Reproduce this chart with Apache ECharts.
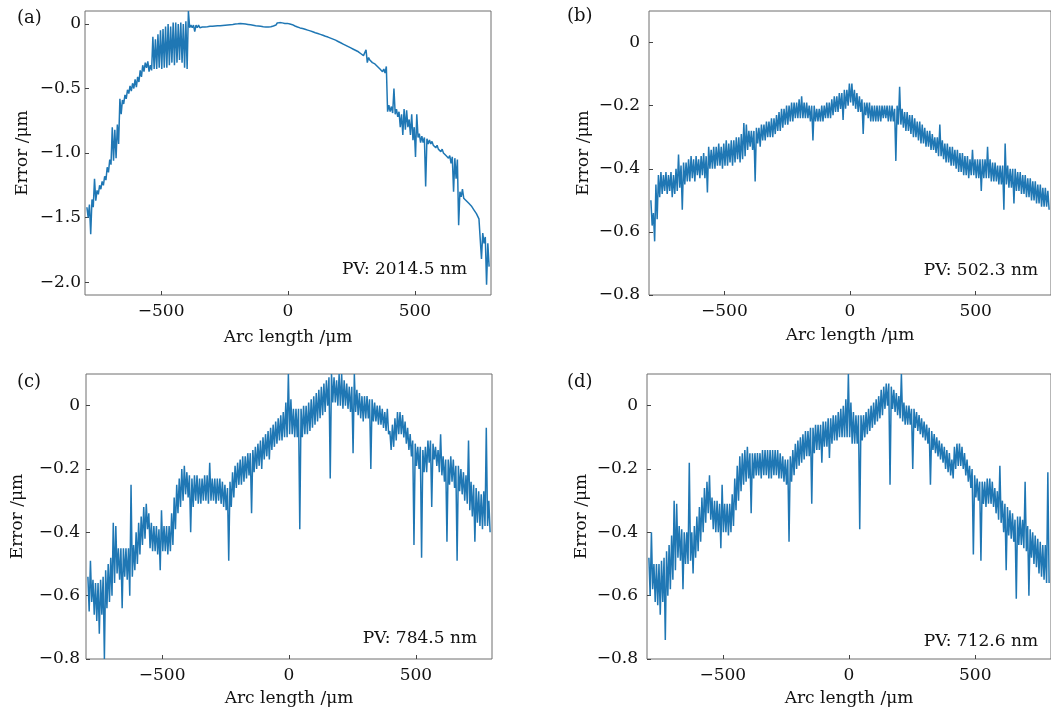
<!DOCTYPE html>
<html>
<head>
<meta charset="utf-8">
<script src="https://cdn.jsdelivr.net/npm/echarts@6.0.0/dist/echarts.min.js"></script>
<style>
  html, body { margin: 0; padding: 0; background: #fff; }
  #chart { width: 1051px; height: 709px; }
</style>
</head>
<body>
<div id="chart"></div>
<script>
// bin centres of the profiles, arc length in um (10 um bins)
const arcLength = [];
for (let x = -790; x <= 790; x += 10) arcLength.push(x);

// error in um: upper and lower edge of the noisy trace in each bin, one row = 100 um
const topA = [
  -1.42, -1.40, -1.36, -1.20, -1.29, -1.25, -1.22, -1.18, -1.11, -1.05,
  -0.80, -0.82, -0.78, -0.58, -0.59, -0.55, -0.51, -0.48, -0.46, -0.43,
  -0.41, -0.36, -0.32, -0.30, -0.29, -0.32, -0.10, -0.12, -0.08, -0.05,
  -0.04, -0.02, 0.00, -0.02, 0.01, 0.01, 0.00, 0.01, 0.00, 0.02,
  0.10, -0.01, -0.01, -0.01, -0.01, -0.016, -0.016, -0.014, -0.011, -0.011,
  -0.008, -0.006, -0.006, -0.004, -0.002, 0.0, 0.002, 0.004, 0.007, 0.009,
  0.012, 0.01, 0.007, 0.004, 0.001, -0.002, -0.006, -0.008, -0.011, -0.014,
  -0.016, -0.016, -0.014, -0.008, -0.001, 0.007, 0.01, 0.008, 0.004, 0.004,
  -0.001, -0.006, -0.016, -0.024, -0.031, -0.036, -0.042, -0.048, -0.054, -0.061,
  -0.068, -0.074, -0.081, -0.088, -0.096, -0.102, -0.11, -0.118, -0.126, -0.136,
  -0.146, -0.156, -0.166, -0.176, -0.186, -0.196, -0.206, -0.216, -0.231, -0.246,
  -0.20, -0.26, -0.28, -0.29, -0.31, -0.32, -0.34, -0.35, -0.33, -0.63,
  -0.64, -0.50, -0.66, -0.68, -0.70, -0.66, -0.67, -0.74, -0.70, -0.80,
  -0.70, -0.85, -0.87, -0.88, -0.89, -0.90, -0.91, -0.93, -0.94, -0.96,
  -0.97, -0.99, -1.01, -1.02, -1.03, -1.04, -1.05, -1.30, -1.28, -1.34,
  -1.36, -1.38, -1.41, -1.44, -1.47, -1.50, -1.62, -1.65, -1.70
];
const bottomA = [
  -1.50, -1.63, -1.42, -1.37, -1.32, -1.28, -1.25, -1.21, -1.15, -1.09,
  -1.06, -1.04, -0.93, -0.70, -0.62, -0.58, -0.54, -0.52, -0.50, -0.49,
  -0.45, -0.41, -0.37, -0.34, -0.37, -0.36, -0.35, -0.35, -0.34, -0.35,
  -0.34, -0.34, -0.32, -0.30, -0.32, -0.30, -0.28, -0.30, -0.34, -0.35,
  -0.03, -0.03, -0.06, -0.03, -0.03, -0.024, -0.024, -0.022, -0.019, -0.019,
  -0.016, -0.014, -0.014, -0.012, -0.01, -0.008, -0.006, -0.004, -0.001, 0.001,
  0.004, 0.002, -0.001, -0.004, -0.007, -0.01, -0.014, -0.016, -0.019, -0.022,
  -0.024, -0.024, -0.022, -0.016, -0.009, -0.001, 0.002, 0.0, -0.004, -0.004,
  -0.009, -0.014, -0.024, -0.032, -0.039, -0.044, -0.05, -0.056, -0.062, -0.069,
  -0.076, -0.082, -0.089, -0.096, -0.104, -0.11, -0.118, -0.126, -0.134, -0.144,
  -0.154, -0.164, -0.174, -0.184, -0.194, -0.204, -0.214, -0.224, -0.239, -0.254,
  -0.30, -0.28, -0.30, -0.31, -0.33, -0.35, -0.37, -0.38, -0.68, -0.68,
  -0.69, -0.70, -0.72, -0.80, -0.86, -0.82, -0.80, -0.86, -0.90, -1.03,
  -0.88, -0.92, -0.92, -1.26, -0.93, -0.93, -0.94, -0.96, -0.97, -0.99,
  -1.00, -1.02, -1.04, -1.08, -1.30, -1.20, -1.56, -1.34, -1.35, -1.37,
  -1.39, -1.41, -1.44, -1.47, -1.51, -1.82, -1.70, -2.02, -1.88
];
const topB = [
  -0.50, -0.54, -0.45, -0.42, -0.41, -0.42, -0.41, -0.42, -0.41, -0.42,
  -0.40, -0.355, -0.39, -0.38, -0.38, -0.37, -0.36, -0.37, -0.36, -0.37,
  -0.36, -0.35, -0.36, -0.33, -0.34, -0.33, -0.33, -0.32, -0.33, -0.32,
  -0.31, -0.32, -0.31, -0.31, -0.30, -0.30, -0.29, -0.255, -0.26, -0.28,
  -0.28, -0.28, -0.27, -0.27, -0.26, -0.26, -0.25, -0.25, -0.24, -0.24,
  -0.23, -0.22, -0.21, -0.21, -0.20, -0.20, -0.19, -0.19, -0.19, -0.18,
  -0.17, -0.19, -0.19, -0.20, -0.20, -0.20, -0.21, -0.21, -0.20, -0.20,
  -0.19, -0.19, -0.18, -0.17, -0.17, -0.16, -0.16, -0.15, -0.15, -0.13,
  -0.13, -0.15, -0.16, -0.17, -0.18, -0.19, -0.19, -0.19, -0.20, -0.20,
  -0.20, -0.20, -0.20, -0.20, -0.20, -0.20, -0.20, -0.21, -0.20, -0.14,
  -0.21, -0.22, -0.22, -0.23, -0.23, -0.24, -0.25, -0.25, -0.26, -0.27,
  -0.28, -0.28, -0.29, -0.30, -0.30, -0.26, -0.31, -0.32, -0.32, -0.33,
  -0.33, -0.34, -0.34, -0.35, -0.35, -0.36, -0.36, -0.37, -0.34, -0.37,
  -0.37, -0.37, -0.37, -0.37, -0.33, -0.37, -0.38, -0.38, -0.39, -0.39,
  -0.39, -0.32, -0.39, -0.40, -0.40, -0.40, -0.41, -0.41, -0.42, -0.42,
  -0.43, -0.43, -0.44, -0.44, -0.45, -0.45, -0.46, -0.46, -0.47
];
const bottomB = [
  -0.58, -0.63, -0.56, -0.49, -0.48, -0.47, -0.48, -0.47, -0.49, -0.48,
  -0.47, -0.46, -0.53, -0.45, -0.44, -0.44, -0.43, -0.44, -0.42, -0.43,
  -0.42, -0.43, -0.475, -0.40, -0.40, -0.40, -0.39, -0.39, -0.40, -0.39,
  -0.39, -0.38, -0.39, -0.38, -0.37, -0.38, -0.37, -0.36, -0.34, -0.33,
  -0.34, -0.44, -0.32, -0.33, -0.31, -0.31, -0.30, -0.30, -0.30, -0.29,
  -0.28, -0.28, -0.27, -0.26, -0.26, -0.25, -0.25, -0.24, -0.24, -0.24,
  -0.24, -0.24, -0.24, -0.25, -0.31, -0.25, -0.25, -0.25, -0.25, -0.24,
  -0.24, -0.24, -0.23, -0.22, -0.22, -0.21, -0.245, -0.21, -0.20, -0.19,
  -0.20, -0.21, -0.22, -0.22, -0.29, -0.23, -0.24, -0.25, -0.25, -0.25,
  -0.25, -0.25, -0.24, -0.24, -0.25, -0.25, -0.25, -0.375, -0.26, -0.26,
  -0.27, -0.28, -0.28, -0.29, -0.30, -0.30, -0.31, -0.32, -0.32, -0.33,
  -0.33, -0.34, -0.34, -0.35, -0.36, -0.36, -0.37, -0.38, -0.38, -0.39,
  -0.39, -0.40, -0.41, -0.41, -0.42, -0.42, -0.43, -0.42, -0.42, -0.43,
  -0.43, -0.47, -0.43, -0.43, -0.43, -0.44, -0.44, -0.44, -0.45, -0.45,
  -0.53, -0.45, -0.46, -0.46, -0.51, -0.47, -0.47, -0.48, -0.48, -0.49,
  -0.49, -0.50, -0.50, -0.51, -0.51, -0.52, -0.52, -0.52, -0.53
];
const topC = [
  -0.54, -0.49, -0.55, -0.56, -0.56, -0.55, -0.54, -0.52, -0.50, -0.48,
  -0.37, -0.38, -0.45, -0.45, -0.45, -0.45, -0.45, -0.25, -0.44, -0.40,
  -0.37, -0.35, -0.32, -0.31, -0.34, -0.37, -0.38, -0.38, -0.39, -0.33,
  -0.38, -0.38, -0.38, -0.34, -0.29, -0.25, -0.23, -0.20, -0.19, -0.21,
  -0.22, -0.23, -0.22, -0.22, -0.23, -0.23, -0.22, -0.22, -0.18, -0.23,
  -0.23, -0.23, -0.23, -0.24, -0.25, -0.26, -0.24, -0.21, -0.19, -0.18,
  -0.17, -0.16, -0.16, -0.15, -0.15, -0.14, -0.13, -0.12, -0.11, -0.10,
  -0.09, -0.08, -0.07, -0.06, -0.05, -0.04, -0.03, -0.02, 0.01, 0.10,
  0.02, -0.01, -0.01, -0.01, -0.01, 0.00, 0.00, 0.01, 0.02, 0.03,
  0.04, 0.05, 0.06, 0.07, 0.08, 0.09, 0.10, 0.09, 0.08, 0.10,
  0.10, 0.08, 0.07, 0.06, 0.06, 0.10, 0.05, 0.04, 0.03, 0.03,
  0.03, 0.02, 0.02, 0.01, 0.00, 0.00, -0.01, -0.02, -0.01, -0.08,
  -0.06, -0.04, -0.02, -0.02, -0.03, -0.05, -0.07, -0.09, -0.11, -0.12,
  -0.13, -0.13, -0.14, -0.13, -0.11, -0.11, -0.12, -0.13, -0.14, -0.09,
  -0.16, -0.17, -0.17, -0.16, -0.17, -0.19, -0.19, -0.20, -0.21, -0.22,
  -0.11, -0.24, -0.25, -0.26, -0.27, -0.28, -0.27, -0.07, -0.30
];
const bottomC = [
  -0.65, -0.62, -0.66, -0.68, -0.72, -0.66, -0.80, -0.64, -0.62, -0.60,
  -0.56, -0.53, -0.55, -0.64, -0.54, -0.55, -0.60, -0.54, -0.52, -0.50,
  -0.47, -0.44, -0.42, -0.39, -0.45, -0.46, -0.46, -0.47, -0.52, -0.46,
  -0.46, -0.47, -0.46, -0.44, -0.39, -0.34, -0.32, -0.30, -0.28, -0.29,
  -0.40, -0.32, -0.30, -0.31, -0.31, -0.30, -0.30, -0.31, -0.30, -0.30,
  -0.31, -0.30, -0.31, -0.32, -0.33, -0.49, -0.32, -0.29, -0.26, -0.25,
  -0.25, -0.24, -0.23, -0.22, -0.34, -0.21, -0.20, -0.19, -0.20, -0.17,
  -0.16, -0.17, -0.14, -0.13, -0.12, -0.11, -0.11, -0.10, -0.10, -0.09,
  -0.09, -0.10, -0.10, -0.39, -0.10, -0.09, -0.09, -0.08, -0.07, -0.06,
  -0.05, -0.04, -0.03, -0.02, 0.00, -0.23, 0.01, 0.01, 0.00, 0.00,
  -0.01, 0.00, -0.01, -0.02, -0.15, -0.02, -0.03, -0.04, -0.05, -0.04,
  -0.04, -0.20, -0.05, -0.05, -0.06, -0.06, -0.07, -0.08, -0.09, -0.14,
  -0.13, -0.11, -0.09, -0.09, -0.10, -0.12, -0.14, -0.16, -0.44, -0.19,
  -0.20, -0.48, -0.21, -0.21, -0.18, -0.32, -0.17, -0.19, -0.21, -0.22,
  -0.24, -0.43, -0.25, -0.24, -0.26, -0.49, -0.27, -0.28, -0.30, -0.31,
  -0.33, -0.35, -0.43, -0.37, -0.38, -0.39, -0.38, -0.38, -0.40
];
const topD = [
  -0.48, -0.40, -0.50, -0.50, -0.50, -0.49, -0.48, -0.46, -0.44, -0.41,
  -0.30, -0.31, -0.38, -0.39, -0.40, -0.40, -0.18, -0.40, -0.38, -0.35,
  -0.32, -0.29, -0.26, -0.24, -0.22, -0.29, -0.30, -0.30, -0.31, -0.25,
  -0.31, -0.31, -0.31, -0.28, -0.23, -0.19, -0.16, -0.15, -0.14, -0.13,
  -0.15, -0.15, -0.15, -0.15, -0.15, -0.14, -0.14, -0.14, -0.14, -0.14,
  -0.14, -0.14, -0.15, -0.16, -0.17, -0.17, -0.16, -0.14, -0.12, -0.11,
  -0.10, -0.09, -0.08, -0.08, -0.07, -0.07, -0.06, -0.06, -0.06, -0.05,
  -0.05, -0.04, -0.04, -0.03, -0.03, -0.02, -0.01, 0.00, 0.02, 0.10,
  0.01, -0.02, -0.03, -0.03, -0.03, -0.03, -0.02, -0.01, 0.00, 0.01,
  0.02, 0.03, 0.05, 0.06, 0.07, 0.07, 0.06, 0.05, 0.04, 0.03,
  0.10, 0.01, 0.00, 0.00, -0.01, -0.01, -0.02, -0.03, -0.04, -0.05,
  -0.06, -0.07, -0.08, -0.09, -0.10, -0.11, -0.12, -0.13, -0.14, -0.15,
  -0.17, -0.13, -0.12, -0.12, -0.13, -0.15, -0.17, -0.19, -0.20, -0.22,
  -0.23, -0.24, -0.24, -0.24, -0.23, -0.23, -0.24, -0.26, -0.27, -0.19,
  -0.30, -0.31, -0.32, -0.33, -0.34, -0.36, -0.35, -0.35, -0.36, -0.24,
  -0.38, -0.39, -0.40, -0.41, -0.42, -0.43, -0.44, -0.44, -0.21
];
const bottomD = [
  -0.60, -0.58, -0.62, -0.63, -0.66, -0.62, -0.74, -0.60, -0.58, -0.55,
  -0.52, -0.48, -0.49, -0.58, -0.50, -0.50, -0.49, -0.53, -0.48, -0.46,
  -0.43, -0.40, -0.37, -0.34, -0.36, -0.39, -0.40, -0.40, -0.45, -0.40,
  -0.40, -0.41, -0.40, -0.38, -0.33, -0.30, -0.27, -0.25, -0.24, -0.23,
  -0.34, -0.23, -0.22, -0.22, -0.23, -0.22, -0.22, -0.23, -0.23, -0.22,
  -0.22, -0.23, -0.23, -0.24, -0.25, -0.43, -0.24, -0.22, -0.20, -0.19,
  -0.18, -0.17, -0.16, -0.16, -0.31, -0.15, -0.14, -0.14, -0.18, -0.13,
  -0.13, -0.165, -0.12, -0.11, -0.11, -0.10, -0.10, -0.10, -0.10, -0.10,
  -0.12, -0.12, -0.12, -0.39, -0.11, -0.10, -0.09, -0.08, -0.07, -0.06,
  -0.05, -0.04, -0.03, -0.01, 0.00, -0.25, -0.01, -0.02, -0.03, -0.04,
  -0.05, -0.06, -0.06, -0.06, -0.20, -0.07, -0.08, -0.09, -0.10, -0.11,
  -0.12, -0.25, -0.14, -0.15, -0.16, -0.17, -0.18, -0.20, -0.21, -0.22,
  -0.23, -0.20, -0.19, -0.19, -0.20, -0.22, -0.24, -0.26, -0.47, -0.29,
  -0.30, -0.49, -0.31, -0.32, -0.31, -0.31, -0.32, -0.34, -0.36, -0.37,
  -0.40, -0.52, -0.41, -0.42, -0.43, -0.61, -0.44, -0.44, -0.45, -0.46,
  -0.60, -0.48, -0.50, -0.51, -0.53, -0.54, -0.55, -0.56, -0.56
];

const xTicks = [-500, 0, 500];
const yTicksA = [-2, -1.5, -1, -0.5, 0];
const yTicksB = [-0.8, -0.6, -0.4, -0.2, 0];
const panelLabels = ['(a)', '(b)', '(c)', '(d)'];
const pvLabels = ['PV: 2014.5 nm', 'PV: 502.3 nm', 'PV: 784.5 nm', 'PV: 712.6 nm'];

const font = 'DejaVu Serif';
const ink = '#111';
const frame = '#6e6e6e';
const blue = '#1f77b4';

const panels = [
  { grid: { left: 85, top: 11, width: 406, height: 284 }, top: topA, bottom: bottomA, yMin: -2.1, yMax: 0.1,
    yTicks: yTicksA, yMargin: 4, yGap: 54, xGap: 34, tag: [17, 20], pv: [467, 270] },
  { grid: { left: 649, top: 11, width: 407, height: 284 }, top: topB, bottom: bottomB, yMin: -0.8, yMax: 0.1,
    yTicks: yTicksB, yMargin: 9, yGap: 57, xGap: 32, tag: [567, 18], pv: [1038, 271] },
  { grid: { left: 86, top: 374, width: 406, height: 285 }, top: topC, bottom: bottomC, yMin: -0.8, yMax: 0.1,
    yTicks: yTicksB, yMargin: 6, yGap: 60, xGap: 31, tag: [17, 384], pv: [477, 639] },
  { grid: { left: 647, top: 374, width: 407, height: 285 }, top: topD, bottom: bottomD, yMin: -0.8, yMax: 0.1,
    yTicks: yTicksB, yMargin: 9, yGap: 57, xGap: 31, tag: [567, 384], pv: [1038, 642] },
];

// trace runs top -> bottom inside every bin
function trace(top, bottom) {
  const pts = [];
  arcLength.forEach((x, i) => {
    pts.push([x - 2.5, top[i]]);
    pts.push([x + 2.5, bottom[i]]);
  });
  return pts;
}

const signed = (v, digits) => (v === 0 ? '0' : (v < 0 ? '\u2212' : '') + Math.abs(v).toFixed(digits));
const textStyle = { fontFamily: font, fontSize: 17, color: ink };

const option = {
  animation: false,
  backgroundColor: '#fff',
  grid: panels.map(p => ({ ...p.grid, show: true, borderColor: frame, borderWidth: 1, containLabel: false })),
  xAxis: panels.map((p, i) => ({
    type: 'value',
    gridIndex: i,
    min: -800,
    max: 800,
    axisLine: { show: false, onZero: false },
    axisTick: { show: true, inside: true, length: 4, customValues: xTicks, lineStyle: { color: '#444' } },
    axisLabel: { customValues: xTicks, formatter: v => signed(v, 0), margin: 8, ...textStyle },
    splitLine: { show: false },
    name: 'Arc length /\u03bcm',
    nameLocation: 'middle',
    nameGap: p.xGap,
    nameTextStyle: textStyle,
  })),
  yAxis: panels.map((p, i) => ({
    type: 'value',
    gridIndex: i,
    min: p.yMin,
    max: p.yMax,
    axisLine: { show: false, onZero: false },
    axisTick: { show: true, inside: true, length: 4, customValues: p.yTicks, lineStyle: { color: '#444' } },
    axisLabel: { customValues: p.yTicks, formatter: v => signed(v, 1), margin: p.yMargin, ...textStyle },
    splitLine: { show: false },
    name: 'Error /\u03bcm',
    nameLocation: 'middle',
    nameGap: p.yGap,
    nameTextStyle: textStyle,
  })),
  series: panels.map((p, i) => ({
    type: 'line',
    xAxisIndex: i,
    yAxisIndex: i,
    data: trace(p.top, p.bottom),
    showSymbol: false,
    symbol: 'none',
    clip: true,
    lineStyle: { width: 1.5, color: blue },
  })),
  graphic: panels.flatMap((p, i) => [
    { type: 'text', left: p.tag[0], top: p.tag[1] - 11,
      style: { text: panelLabels[i], font: '18px "' + font + '"', fill: ink } },
    { type: 'text', x: p.pv[0], y: p.pv[1],
      style: { text: pvLabels[i], font: '17px "' + font + '"', fill: ink, align: 'right', verticalAlign: 'middle' } },
  ]),
};

const chart = echarts.init(document.getElementById('chart'));
chart.setOption(option);
</script>
</body>
</html>
